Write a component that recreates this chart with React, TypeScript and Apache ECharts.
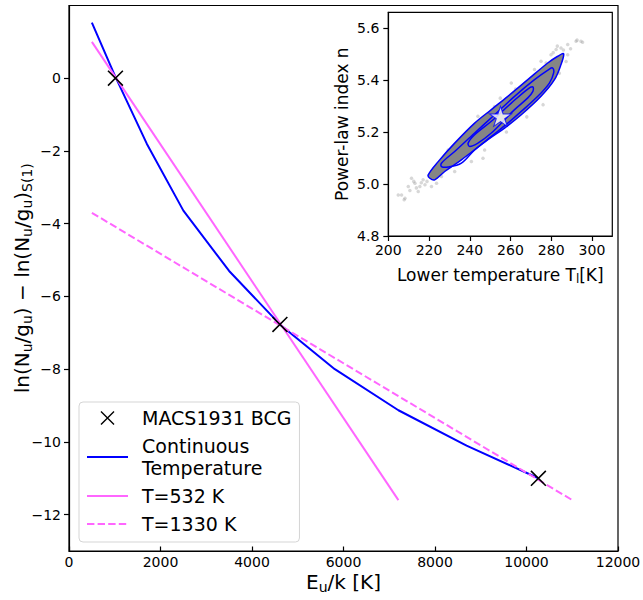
import React, { useEffect, useRef } from 'react';
import * as echarts from 'echarts';

const FONT = 'DejaVu Sans, sans-serif';

// tick values
const mainXTicks = [0, 2000, 4000, 6000, 8000, 10000, 12000];
const mainYTicks = [-12, -10, -8, -6, -4, -2, 0];
const insetXTicks = [200, 220, 240, 260, 280, 300];
const insetYTicks = [4.8, 5.0, 5.2, 5.4, 5.6];

// main panel data
const bcgPoints = [
  [1015, 0.0],
  [4610, -6.77],
  [10260, -11.0],
];
const continuousLine = [
  [500, 1.53],
  [1000, 0.08],
  [1700, -1.8],
  [2500, -3.64],
  [3500, -5.3],
  [4610, -6.77],
  [5810, -8.0],
  [7200, -9.13],
  [8690, -10.1],
  [10260, -11.0],
];
const t532Line = [
  [500, 1.0],
  [7200, -11.6],
];
const t1330Line = [
  [500, -3.7],
  [11000, -11.6],
];

// inset data (T_l, n)
const outerContour = [
  [219.6, 5.035], [224.5, 5.086], [232.6, 5.157], [242.4, 5.234], [250.6, 5.286],
  [258.7, 5.337], [268.5, 5.401], [278.3, 5.465], [283.2, 5.491], [286.1, 5.501],
  [284.8, 5.459], [281.6, 5.401], [275.0, 5.337], [265.3, 5.266], [257.1, 5.215],
  [248.9, 5.170], [235.9, 5.093], [227.7, 5.048], [222.8, 5.016], [220.4, 5.022],
];
const middleContour = [
  [226.1, 5.080], [232.6, 5.125], [242.4, 5.196], [252.2, 5.266], [262.0, 5.337],
  [271.8, 5.401], [279.1, 5.442], [280.7, 5.446], [281.2, 5.427], [279.1, 5.388],
  [273.4, 5.337], [265.3, 5.279], [258.7, 5.234], [250.6, 5.183], [242.4, 5.131],
  [235.9, 5.080], [229.4, 5.065], [226.1, 5.067],
];
const innerContour = [
  [239.2, 5.157], [242.4, 5.189], [250.6, 5.241], [260.4, 5.311], [268.5, 5.365],
  [271.0, 5.373], [271.0, 5.356], [268.5, 5.331], [262.0, 5.286], [257.1, 5.247],
  [250.6, 5.196], [244.0, 5.157], [240.0, 5.144],
];
const haloPoints = [
  [211.4, 5.022], [213.1, 5.003], [215.5, 4.990], [218.0, 4.997], [214.7, 4.971],
  [209.8, 4.990], [206.5, 4.958], [208.2, 4.945], [217.1, 5.016], [221.2, 4.990],
  [223.7, 5.003], [226.1, 5.029], [204.9, 4.958], [207.8, 4.939], [212.5, 5.010],
  [216.2, 5.005], [219.0, 5.010], [213.8, 4.985], [210.6, 4.975], [222.0, 5.040],
  [279.9, 5.497], [282.4, 5.517], [284.8, 5.523], [288.1, 5.536], [292.2, 5.549],
  [294.6, 5.549], [288.1, 5.497], [287.3, 5.471], [284.0, 5.426], [292.7, 5.553],
  [295.4, 5.545], [281.0, 5.505], [286.0, 5.515], [289.5, 5.520], [283.0, 5.530],
  [260.4, 5.388], [247.3, 5.131], [240.8, 5.086], [246.5, 5.099], [238.0, 5.110],
  [265.2, 5.292], [270.1, 5.324], [232.6, 5.048], [235.9, 5.170], [229.4, 5.131],
  [244.0, 5.260], [252.2, 5.298], [271.8, 5.440], [275.0, 5.472], [277.5, 5.465],
  [255.0, 5.330], [262.5, 5.365], [258.0, 5.200], [268.0, 5.258], [276.0, 5.305],
];
const bestFit = [[255.1, 5.26]];

const X_ICON = 'path://M0,0.7L0.7,0L10,9.3L9.3,10ZM9.3,0L10,0.7L0.7,10L0,9.3Z';
const STAR = 'path://M0,-10L2.245,-3.09L9.511,-3.09L3.633,1.18L5.878,8.09L0,3.82L-5.878,8.09L-3.633,1.18L-9.511,-3.09L-2.245,-3.09Z';

const minusFmt = (v: number) => (v < 0 ? '\u2212' + Math.abs(v) : String(v));

function polygonSeries(name: string, pts: number[][], fill: string | null) {
  return {
    type: 'custom',
    name,
    xAxisIndex: 1,
    yAxisIndex: 1,
    data: pts,
    silent: true,
    z: 3,
    renderItem: (params: any, api: any) => {
      if (params.dataIndex !== 0) return null;
      return {
        type: 'polygon',
        shape: { points: pts.map((p) => api.coord(p)), smooth: 0.35 },
        style: { fill: fill || 'none', stroke: '#0000ff', lineWidth: 1.5 },
      };
    },
  };
}

const hiddenSymbol = { color: 'rgba(0,0,0,0)', borderWidth: 0, opacity: 0 };

export default function App() {
  const ref = useRef<HTMLDivElement>(null);
  useEffect(() => {
    if (!ref.current) return;
    const chart = echarts.init(ref.current, undefined, { renderer: 'svg' });
    const axisLineStyle = { color: '#000', width: 1.2 };
    const option: any = {
      animation: false,
      backgroundColor: '#fff',
      textStyle: { fontFamily: FONT },
      grid: [
        {
          left: 69, top: 5.5, width: 549, height: 545.5,
          show: true, borderColor: '#000', borderWidth: 1.2, backgroundColor: '#fff',
          containLabel: false, outerBoundsMode: 'none',
        },
        {
          left: 388.3, top: 12.3, width: 224, height: 223.7,
          show: true, borderColor: '#000', borderWidth: 1.2, backgroundColor: '#fff',
          containLabel: false, outerBoundsMode: 'none',
        },
      ],
      xAxis: [
        {
          type: 'value', gridIndex: 0, min: 0, max: 12000,
          axisLine: { show: true, onZero: false, lineStyle: axisLineStyle },
          axisTick: { show: true, inside: true, length: 4.5, lineStyle: axisLineStyle, customValues: mainXTicks },
          axisLabel: { customValues: mainXTicks, fontSize: 14, color: '#000', margin: 4, fontFamily: FONT, formatter: (v: number) => String(v) },
          splitLine: { show: false },
          name: '{n|E}{s|u}{n|/k [K]}',
          nameLocation: 'middle',
          nameGap: 19,
          nameMoveOverlap: false,
          nameTextStyle: {
            rich: {
              n: { fontSize: 20, fontFamily: FONT, color: '#000', lineHeight: 24 },
              s: { fontSize: 14, fontFamily: FONT, color: '#000', lineHeight: 14, verticalAlign: 'bottom' },
            },
          },
        },
        {
          type: 'value', gridIndex: 1, min: 200, max: 310,
          axisLine: { show: true, onZero: false, lineStyle: axisLineStyle },
          axisTick: { show: true, length: 5, lineStyle: axisLineStyle, customValues: insetXTicks },
          axisLabel: { customValues: insetXTicks, fontSize: 14, color: '#000', margin: 7, fontFamily: FONT, formatter: (v: number) => String(v) },
          splitLine: { show: false },
          name: '{n|Lower temperature T}{s|l}{n|[K]}',
          nameLocation: 'middle',
          nameGap: 29,
          nameMoveOverlap: false,
          nameTextStyle: {
            rich: {
              n: { fontSize: 17, fontFamily: FONT, color: '#000', lineHeight: 20 },
              s: { fontSize: 12, fontFamily: FONT, color: '#000', lineHeight: 12, verticalAlign: 'bottom' },
            },
          },
        },
      ],
      yAxis: [
        {
          type: 'value', gridIndex: 0, min: -13, max: 2,
          axisLine: { show: true, onZero: false, lineStyle: axisLineStyle },
          axisTick: { show: true, length: 5, lineStyle: axisLineStyle, customValues: mainYTicks },
          axisLabel: { customValues: mainYTicks, fontSize: 14, color: '#000', margin: 8, fontFamily: FONT, formatter: minusFmt },
          splitLine: { show: false },
          name: '{n|ln(N}{s|u}{n|/g}{s|u}{n|) \u2212 ln(N}{s|u}{n|/g}{s|u}{n|)}{s|S(1)}',
          nameLocation: 'middle',
          nameRotate: 90,
          nameGap: 35,
          nameMoveOverlap: false,
          nameTextStyle: {
            rich: {
              n: { fontSize: 20, fontFamily: FONT, color: '#000', lineHeight: 24 },
              s: { fontSize: 14, fontFamily: FONT, color: '#000', lineHeight: 14, verticalAlign: 'bottom' },
            },
          },
        },
        {
          type: 'value', gridIndex: 1, min: 4.8, max: 5.66,
          axisLine: { show: true, onZero: false, lineStyle: axisLineStyle },
          axisTick: { show: true, length: 5, lineStyle: axisLineStyle, customValues: insetYTicks },
          axisLabel: { customValues: insetYTicks, fontSize: 14, color: '#000', margin: 9, fontFamily: FONT, formatter: (v: number) => v.toFixed(1) },
          splitLine: { show: false },
          name: 'Power-law index n',
          nameLocation: 'middle',
          nameRotate: 90,
          nameGap: 38,
          nameMoveOverlap: false,
          nameTextStyle: { fontSize: 17, fontFamily: FONT, color: '#000' },
        },
      ],
      legend: {
        orient: 'vertical',
        left: 79,
        top: 402,
        itemWidth: 41,
        itemHeight: 14,
        itemGap: 6,
        padding: [5, 8, 7, 7],
        backgroundColor: 'rgba(255,255,255,0.85)',
        borderColor: '#d5d5d5',
        borderWidth: 1,
        borderRadius: 4,
        textStyle: { fontSize: 19, lineHeight: 22, fontFamily: FONT, color: '#000', padding: [0, 0, 0, 9] },
        formatter: (name: string) => (name === 'Continuous Temperature' ? 'Continuous\nTemperature' : name),
        data: [
          { name: 'MACS1931 BCG', icon: X_ICON },
          { name: 'Continuous Temperature', itemStyle: hiddenSymbol },
          { name: 'T=532 K', itemStyle: hiddenSymbol },
          { name: 'T=1330 K', itemStyle: hiddenSymbol },
        ],
      },
      series: [
        {
          type: 'line', name: 'Continuous Temperature', xAxisIndex: 0, yAxisIndex: 0,
          data: continuousLine, symbol: 'none', showSymbol: false,
          lineStyle: { color: '#0000ff', width: 2 }, itemStyle: { color: '#0000ff' }, z: 2,
        },
        {
          type: 'line', name: 'T=532 K', xAxisIndex: 0, yAxisIndex: 0,
          data: t532Line, symbol: 'none', showSymbol: false,
          lineStyle: { color: '#ff66ff', width: 2 }, itemStyle: { color: '#ff66ff' }, z: 2,
        },
        {
          type: 'line', name: 'T=1330 K', xAxisIndex: 0, yAxisIndex: 0,
          data: t1330Line, symbol: 'none', showSymbol: false,
          lineStyle: { color: '#ff66ff', width: 2, type: [7.4, 3.2] }, itemStyle: { color: '#ff66ff' }, z: 2,
        },
        {
          type: 'scatter', name: 'MACS1931 BCG', xAxisIndex: 0, yAxisIndex: 0,
          data: bcgPoints, symbol: X_ICON, symbolSize: 16,
          itemStyle: { color: '#000', opacity: 1 }, z: 4,
        },
        {
          type: 'scatter', name: 'samples', xAxisIndex: 1, yAxisIndex: 1,
          data: haloPoints, symbol: 'circle', symbolSize: 3.5,
          itemStyle: { color: '#9a9a9a', opacity: 0.4 }, z: 2, silent: true,
        },
        polygonSeries('outer', outerContour, '#858585'),
        polygonSeries('middle', middleContour, null),
        polygonSeries('inner', innerContour, null),
        {
          type: 'scatter', name: 'best', xAxisIndex: 1, yAxisIndex: 1,
          data: bestFit, symbol: STAR, symbolSize: [22, 21], symbolKeepAspect: true,
          itemStyle: { color: '#fff', borderColor: '#0000ff', borderWidth: 1 }, z: 6, silent: true,
        },
      ],
    };
    chart.setOption(option);
    return () => chart.dispose();
  }, []);
  return <div ref={ref} style={{ position: 'fixed', left: 0, top: 0, width: 643, height: 600 }} />;
}
